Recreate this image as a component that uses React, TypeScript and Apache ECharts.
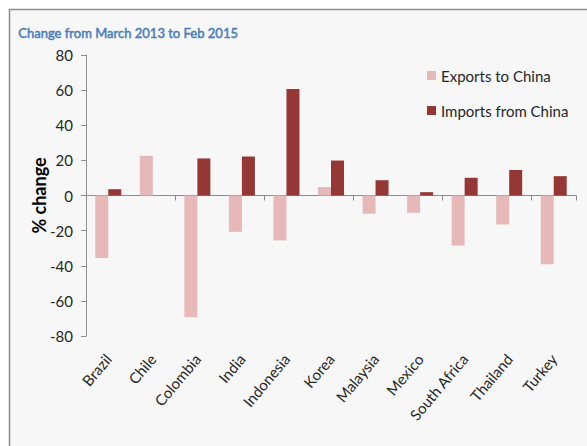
import React, { useEffect, useRef } from "react";
import * as echarts from "echarts";

const categories = ["Brazil", "Chile", "Colombia", "India", "Indonesia", "Korea", "Malaysia", "Mexico", "South Africa", "Thailand", "Turkey"];
const exportsToChina = [-35.6, 22.6, -69.3, -20.7, -25.6, 4.8, -10.4, -9.9, -28.5, -16.5, -39.1];
const importsFromChina = [3.6, 0, 21.1, 22.2, 60.6, 19.9, 8.7, 1.9, 10.1, 14.5, 11.0];
const yTicks = { min: -80, max: 80, interval: 20 };
const titleText = "Change from March 2013 to Feb 2015";
const yAxisName = "% change";
const seriesNames = ["Exports to China", "Imports from China"];

const FONT = "Lato, 'Open Sans', sans-serif";

export default function App() {
  const ref = useRef<HTMLDivElement>(null);
  useEffect(() => {
    document.body.style.margin = "0";
    const chart = echarts.init(ref.current!, undefined, { renderer: "svg" });
    chart.setOption({
      animation: false,
      backgroundColor: "#ffffff",
      graphic: [
        {
          type: "rect",
          z: -10,
          shape: { x: 9.5, y: 9.5, width: 600, height: 460 },
          style: { fill: "#f7f7f7", stroke: "#8a8a8a", lineWidth: 1.5 },
        },
        {
          type: "text",
          left: 18,
          top: 26,
          style: {
            text: titleText,
            fill: "#4a7ebb",
            stroke: "#4a7ebb",
            lineWidth: 0.5,
            font: `normal 13px ${FONT}`,
          },
        },
      ],
      legend: {
        orient: "vertical",
        left: 422,
        top: 63,
        itemWidth: 9,
        itemHeight: 9,
        itemGap: 20,
        icon: "rect",
        textStyle: { fontFamily: FONT, fontSize: 15, color: "#262626" },
        data: seriesNames,
      },
      grid: { left: 86, right: 11, top: 55, bottom: 110 },
      xAxis: [
        {
          type: "category",
          data: categories,
          position: "bottom",
          axisLine: { show: false, onZero: false },
          axisTick: { show: false },
          axisLabel: {
            rotate: 50,
            margin: 20,
            interval: 0,
            fontFamily: FONT,
            fontSize: 15,
            color: "#262626",
          },
        },
        {
          type: "category",
          data: categories,
          position: "bottom",
          axisLine: { show: true, onZero: true, lineStyle: { color: "#8c8c8c", width: 1 } },
          axisTick: { show: true, length: 5, alignWithLabel: false, lineStyle: { color: "#8c8c8c" } },
          axisLabel: { show: false },
        },
      ],
      yAxis: {
        type: "value",
        min: yTicks.min,
        max: yTicks.max,
        interval: yTicks.interval,
        name: yAxisName,
        nameLocation: "middle",
        nameRotate: 90,
        nameGap: 38,
        nameMoveOverlap: false,
        nameTextStyle: { fontFamily: FONT, fontSize: 18, fontWeight: "bold", color: "#000" },
        axisLine: { show: true, lineStyle: { color: "#8c8c8c" } },
        axisTick: { show: true, length: 5, lineStyle: { color: "#8c8c8c" } },
        splitLine: { show: false },
        axisLabel: { fontFamily: FONT, fontSize: 15, color: "#262626", margin: 13 },
      },
      series: [
        {
          name: seriesNames[0],
          type: "bar",
          data: exportsToChina,
          barWidth: 13,
          barGap: "0%",
          itemStyle: { color: "#e6b9b8" },
        },
        {
          name: seriesNames[1],
          type: "bar",
          data: importsFromChina,
          barWidth: 13,
          barGap: "0%",
          itemStyle: { color: "#953735" },
        },
      ],
    });
    return () => chart.dispose();
  }, []);
  return <div ref={ref} style={{ width: 587, height: 446 }} />;
}
